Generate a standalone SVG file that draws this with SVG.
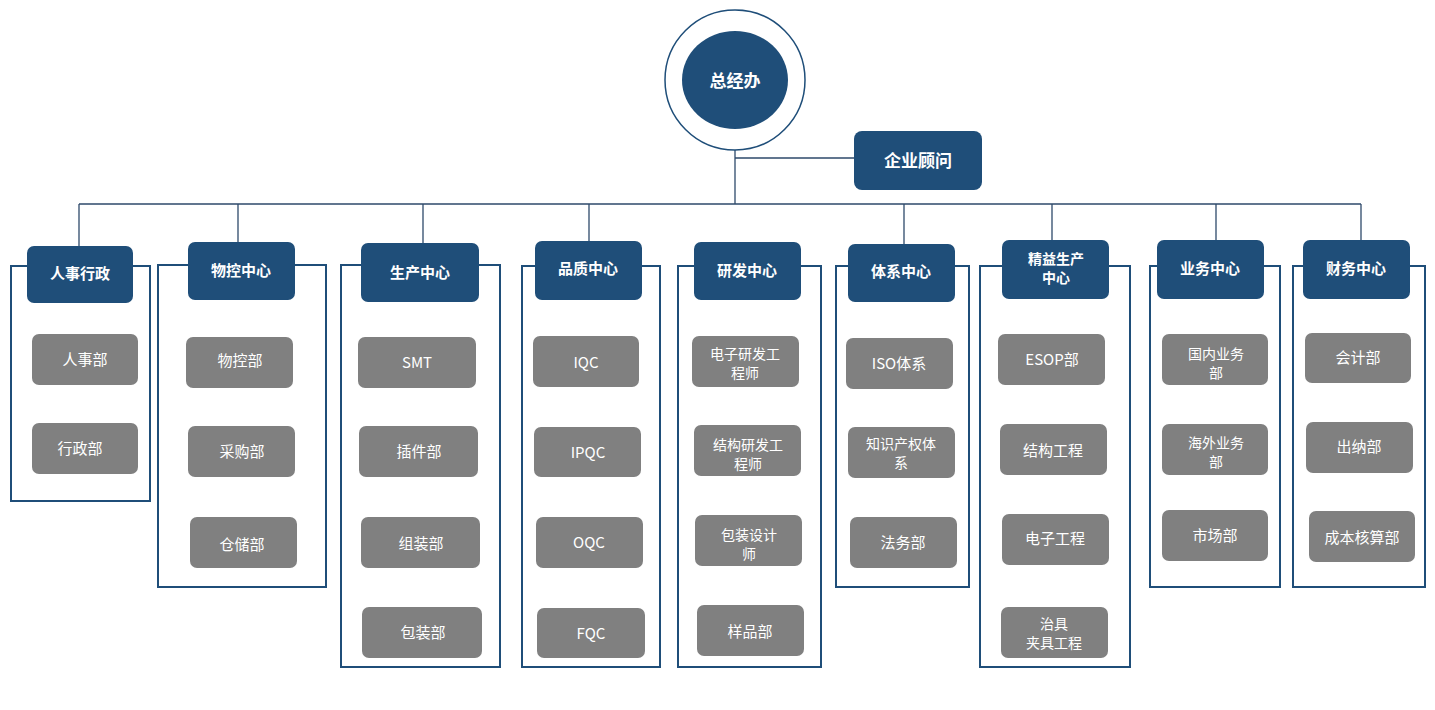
<svg xmlns="http://www.w3.org/2000/svg" width="1435" height="710" viewBox="0 0 1435 710">
<style>
text{font-family:"Noto Sans CJK SC","Noto Sans",sans-serif;fill:#fff;text-anchor:middle;dominant-baseline:central}
.h{font-size:15px;font-weight:bold}
.c{font-size:15px}
.s{font-size:14px}
.fr{fill:none;stroke:#1F4E79;stroke-width:2}
.hd{fill:#1F4E79}
.ch{fill:#808080}
.ln{stroke:#2E4A6B;stroke-width:1.3;fill:none}
</style>
<rect width="1435" height="710" fill="#fff"/>
<g id="connectors">
<path class="ln" d="M79 204H1361M735 150V204M735 158H854M79 204V246M238 204V242M423 204V243M589 204V241M904 204V244M1052 204V240M1216 204V240M1361 204V240"/>
</g>
<g id="root"><circle cx="735" cy="80" r="70" fill="#fff" stroke="#1F4E79" stroke-width="1.5"/><ellipse cx="735" cy="80" rx="53" ry="49" fill="#1F4E79"/><text x="735" y="79" class="h" style="font-size:17px">总经办</text></g>
<g id="advisor"><rect x="854" y="131" width="128" height="59" rx="8" class="hd"/><text x="918" y="159" class="h" style="font-size:17px">企业顾问</text></g>

<g id="col1"><rect x="11" y="266" width="139" height="235" class="fr"/><rect x="27" y="246" width="106" height="57" rx="7" class="hd"/><text x="80" y="272" class="h">人事行政</text>
<rect x="32" y="334" width="106" height="51" rx="7" class="ch"/><text x="85" y="358" class="c">人事部</text>
<rect x="32" y="423" width="106" height="51" rx="7" class="ch"/><text x="80" y="447" class="c">行政部</text></g>

<g id="col2"><rect x="158" y="265" width="168" height="322" class="fr"/><rect x="188" y="242" width="107" height="58" rx="7" class="hd"/><text x="241" y="269" class="h">物控中心</text>
<rect x="186" y="337" width="107" height="51" rx="7" class="ch"/><text x="240" y="359" class="c">物控部</text>
<rect x="188" y="426" width="107" height="51" rx="7" class="ch"/><text x="242" y="450" class="c">采购部</text>
<rect x="190" y="517" width="107" height="51" rx="7" class="ch"/><text x="242" y="543" class="c">仓储部</text></g>

<g id="col3"><rect x="341" y="265" width="159" height="402" class="fr"/><rect x="361" y="243" width="118" height="59" rx="7" class="hd"/><text x="420" y="271" class="h">生产中心</text>
<rect x="358" y="337" width="118" height="51" rx="7" class="ch"/><text x="417" y="361" class="c">SMT</text>
<rect x="359" y="426" width="119" height="51" rx="7" class="ch"/><text x="419" y="450" class="c">插件部</text>
<rect x="361" y="517" width="119" height="51" rx="7" class="ch"/><text x="421" y="542" class="c">组装部</text>
<rect x="362" y="607" width="120" height="51" rx="7" class="ch"/><text x="423" y="631" class="c">包装部</text></g>

<g id="col4"><rect x="522" y="266" width="138" height="401" class="fr"/><rect x="535" y="241" width="107" height="59" rx="7" class="hd"/><text x="588" y="267" class="h">品质中心</text>
<rect x="533" y="336" width="106" height="51" rx="7" class="ch"/><text x="586" y="361" class="c">IQC</text>
<rect x="534" y="427" width="107" height="50" rx="7" class="ch"/><text x="588" y="451" class="c">IPQC</text>
<rect x="536" y="517" width="107" height="51" rx="7" class="ch"/><text x="589" y="541" class="c">OQC</text>
<rect x="537" y="608" width="108" height="50" rx="7" class="ch"/><text x="591" y="632" class="c">FQC</text></g>

<g id="col5"><rect x="678" y="266" width="143" height="401" class="fr"/><rect x="694" y="242" width="107" height="58" rx="7" class="hd"/><text x="747" y="269" class="h">研发中心</text>
<rect x="692" y="336" width="107" height="51" rx="7" class="ch"/><text x="745" y="353" class="s">电子研发工</text><text x="745" y="372" class="s">程师</text>
<rect x="694" y="425" width="107" height="51" rx="7" class="ch"/><text x="748" y="444" class="s">结构研发工</text><text x="748" y="463" class="s">程师</text>
<rect x="695" y="515" width="107" height="51" rx="7" class="ch"/><text x="749" y="534" class="s">包装设计</text><text x="749" y="553" class="s">师</text>
<rect x="697" y="605" width="107" height="51" rx="7" class="ch"/><text x="750" y="630" class="c">样品部</text></g>

<g id="col6"><rect x="836" y="266" width="133" height="321" class="fr"/><rect x="848" y="244" width="107" height="58" rx="7" class="hd"/><text x="901" y="270" class="h">体系中心</text>
<rect x="846" y="338" width="107" height="51" rx="7" class="ch"/><text x="899" y="362" class="c">ISO体系</text>
<rect x="848" y="427" width="107" height="51" rx="7" class="ch"/><text x="901" y="443" class="s">知识产权体</text><text x="901" y="462" class="s">系</text>
<rect x="850" y="517" width="107" height="51" rx="7" class="ch"/><text x="903" y="541" class="c">法务部</text></g>

<g id="col7"><rect x="980" y="266" width="150" height="401" class="fr"/><rect x="1002" y="240" width="107" height="59" rx="7" class="hd"/><text x="1056" y="258" class="h" style="font-size:14px">精益生产</text><text x="1056" y="277" class="h" style="font-size:14px">中心</text>
<rect x="998" y="334" width="107" height="51" rx="7" class="ch"/><text x="1052" y="358" class="c">ESOP部</text>
<rect x="1000" y="424" width="107" height="51" rx="7" class="ch"/><text x="1053" y="449" class="c">结构工程</text>
<rect x="1002" y="514" width="107" height="51" rx="7" class="ch"/><text x="1055" y="537" class="c">电子工程</text>
<rect x="1001" y="607" width="107" height="51" rx="7" class="ch"/><text x="1054" y="623" class="s">治具</text><text x="1054" y="642" class="s">夹具工程</text></g>

<g id="col8"><rect x="1150" y="266" width="130" height="321" class="fr"/><rect x="1157" y="240" width="107" height="59" rx="7" class="hd"/><text x="1210" y="267" class="h">业务中心</text>
<rect x="1162" y="334" width="106" height="51" rx="7" class="ch"/><text x="1216" y="353" class="s">国内业务</text><text x="1216" y="372" class="s">部</text>
<rect x="1162" y="424" width="106" height="51" rx="7" class="ch"/><text x="1216" y="442" class="s">海外业务</text><text x="1216" y="461" class="s">部</text>
<rect x="1162" y="510" width="106" height="51" rx="7" class="ch"/><text x="1215" y="534" class="c">市场部</text></g>

<g id="col9"><rect x="1293" y="266" width="132" height="321" class="fr"/><rect x="1303" y="240" width="107" height="59" rx="7" class="hd"/><text x="1356" y="267" class="h">财务中心</text>
<rect x="1305" y="333" width="106" height="50" rx="7" class="ch"/><text x="1358" y="356" class="c">会计部</text>
<rect x="1306" y="422" width="107" height="51" rx="7" class="ch"/><text x="1359" y="445" class="c">出纳部</text>
<rect x="1309" y="511" width="106" height="51" rx="7" class="ch"/><text x="1362" y="536" class="c">成本核算部</text></g>
</svg>
